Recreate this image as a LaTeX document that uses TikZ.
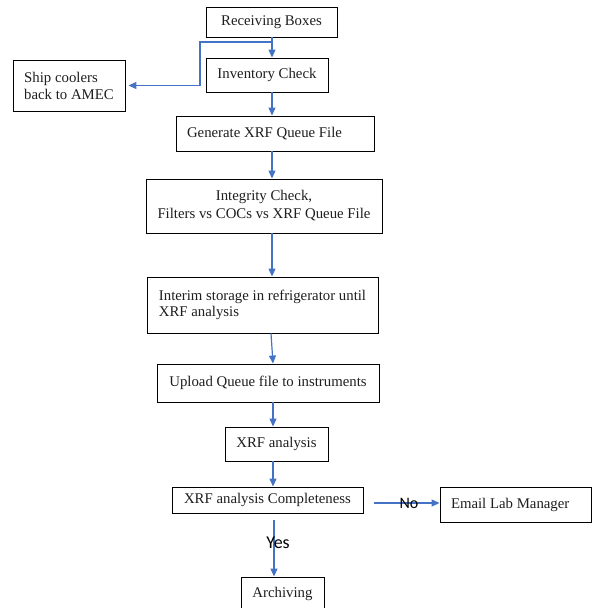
\documentclass[tikz,border=0pt]{standalone}
\usepackage{fontspec}
\setmainfont{Liberation Serif}
\newfontfamily\lblfont{Carlito}
\usetikzlibrary{arrows.meta}
\definecolor{flowblue}{RGB}{68,114,196}
\definecolor{boxtext}{RGB}{30,30,30}
\tikzset{
  box/.style={draw=black, line width=0.9pt, inner sep=0pt, text=boxtext, font=\fontsize{14.8}{17}\selectfont, align=center},
  lbox/.style={box, align=left},
  flow/.style={draw=flowblue, line width=1.2pt, -{Triangle[length=8pt,width=7pt]}},
  lbl/.style={font=\lblfont\fontsize{16}{18}\selectfont, inner sep=0pt}
}
\begin{document}
\begin{tikzpicture}[x=1pt,y=-1pt]
\useasboundingbox (0,0) rectangle (592,608);
\clip (0,0) rectangle (592,608);
\node[box, minimum width=131pt, minimum height=30pt] (rb) at (271.5,22) {Receiving Boxes};
\node[box, minimum width=122pt, minimum height=34pt] (inv) at (267,75) {Inventory Check};
\node[lbox, minimum width=112pt, minimum height=51pt] (ship) at (69,85.5) {Ship coolers\\back to AMEC};
\node[box, minimum width=198pt, minimum height=35pt] (gen) at (275,133.5) {\makebox[176pt][l]{Generate XRF Queue File}};
\node[box, minimum width=236pt, minimum height=54pt, font=\fontsize{14.8}{18}\selectfont] (int) at (264,206) {Integrity Check,\\Filters vs COCs vs XRF Queue File};
\node[lbox, minimum width=231pt, minimum height=56pt, font=\fontsize{14.8}{15.5}\selectfont] (stor) at (262.5,305) {Interim storage in refrigerator until\\XRF analysis};
\node[box, minimum width=222pt, minimum height=38pt] (up) at (268,383) {Upload Queue file to instruments};
\node[box, minimum width=103pt, minimum height=34pt] (xrf) at (276.5,444) {XRF analysis};
\node[box, minimum width=191pt, minimum height=26pt] (comp) at (267.5,500) {XRF analysis Completeness};
\node[box, minimum width=151pt, minimum height=35pt] (mail) at (515.5,504.5) {\makebox[129pt][l]{Email Lab Manager}};
\node[box, minimum width=83pt, minimum height=33pt] (arch) at (282.5,593.5) {Archiving};

\coordinate (c1) at (272,0);
\coordinate (c2) at (273,0);
\coordinate (c3) at (274,0);
\coordinate (bend) at (200,42);

\draw[flow] (rb.south -| c1) -- (inv.north -| c1);
\draw[flow] (bend -| c1) -- (bend) -- (bend |- ship.east) -- ([xshift=3pt]ship.east);
\draw[flow] (inv.south -| c1) -- (gen.north -| c1);
\draw[flow] (gen.south -| c1) -- (int.north -| c1);
\draw[flow] (int.south -| c1) -- (stor.north -| c1);
\draw[flow] (stor.south -| 271,0) -- (up.north -| c2);
\draw[flow] (up.south -| c2) -- (xrf.north -| c2);
\draw[flow] (xrf.south -| c2) -- (comp.north -| c2);
\draw[flow, shorten <=7pt] (comp.south -| c3) -- (arch.north -| c3);
\draw[flow, shorten <=11pt] (comp.east |- 0,503) -- (mail.west |- 0,503);
\node[lbl, font=\lblfont\fontsize{18}{20}\selectfont] (yes) at (278,543) {Yes};
\node[lbl] (no) at (409,503) {No};
\end{tikzpicture}
\end{document}
